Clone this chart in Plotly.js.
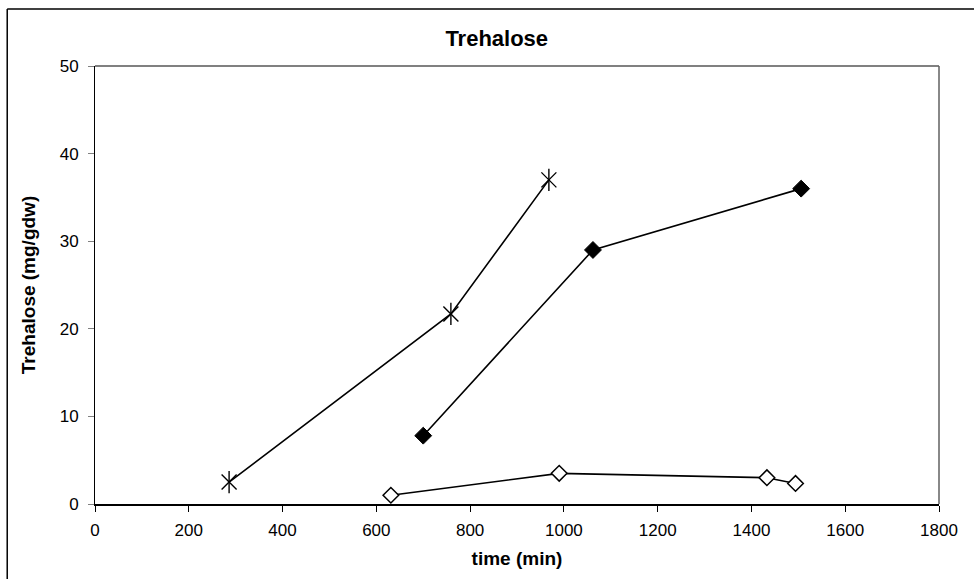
<!DOCTYPE html>
<html>
<head>
<meta charset="utf-8">
<script src="https://cdn.plot.ly/plotly-3.0.1.min.js"></script>
<style>html,body{margin:0;padding:0;background:#fff;}#chart{width:974px;height:579px;}</style>
</head>
<body>
<div id="chart"></div>
<script>
// Data
const starTime = [286, 759, 968];
const starTrehalose = [2.5, 21.7, 37.0];
const filledTime = [700, 1062, 1506];
const filledTrehalose = [7.8, 29.0, 36.0];
const openTime = [631, 990, 1433, 1494];
const openTrehalose = [1.0, 3.5, 3.0, 2.35];
const xTicks = [0, 200, 400, 600, 800, 1000, 1200, 1400, 1600, 1800];
const yTicks = [0, 10, 20, 30, 40, 50];

const lineStyle = {color: '#000', width: 1.6};

const traces = [
  {x: starTime, y: starTrehalose, type: 'scatter', mode: 'lines+markers',
   line: lineStyle, marker: {symbol: 'x-thin-open', size: 15, color: '#000', line: {color: '#000', width: 1.4}},
   showlegend: false, cliponaxis: false},
  {x: starTime, y: starTrehalose, type: 'scatter', mode: 'markers',
   marker: {symbol: 'line-ns-open', size: 16, color: '#000', line: {color: '#000', width: 1.4}},
   showlegend: false, cliponaxis: false},
  {x: filledTime, y: filledTrehalose, type: 'scatter', mode: 'lines+markers',
   line: lineStyle, marker: {symbol: 'diamond', size: 13, color: '#000', line: {color: '#000', width: 1}},
   showlegend: false, cliponaxis: false},
  {x: openTime, y: openTrehalose, type: 'scatter', mode: 'lines+markers',
   line: lineStyle, marker: {symbol: 'diamond', size: 12, color: '#fff', line: {color: '#000', width: 1.5}},
   showlegend: false, cliponaxis: false}
];

const font = 'Arial, "Liberation Sans", sans-serif';

const layout = {
  width: 974, height: 579, autosize: false,
  margin: {l: 95, r: 35, t: 66, b: 75, pad: 0},
  paper_bgcolor: '#fff', plot_bgcolor: '#fff',
  font: {family: font, color: '#000', size: 17},
  title: {text: 'Trehalose', font: {family: font, size: 22, weight: 'bold', color: '#000'},
          x: 0.51, xref: 'container', xanchor: 'center', y: 0.934, yref: 'container', yanchor: 'middle'},
  xaxis: {
    range: [0, 1800], tickvals: xTicks, ticktext: xTicks.map(String),
    showgrid: false, zeroline: false, showline: true, linecolor: '#000', linewidth: 2,
    ticks: 'outside', ticklen: 6, tickwidth: 1, tickcolor: '#000',
    tickfont: {family: font, size: 17, color: '#000'}, ticklabelstandoff: 4,
    title: {text: 'time (min)', font: {family: font, size: 19, weight: 'bold', color: '#000'}, standoff: 12},
    fixedrange: true
  },
  yaxis: {
    range: [0, 50], tickvals: yTicks, ticktext: yTicks.map(String),
    showgrid: false, zeroline: false, showline: true, linecolor: '#000', linewidth: 1,
    ticks: 'outside', ticklen: 6, tickwidth: 1, tickcolor: '#808080',
    tickfont: {family: font, size: 17, color: '#000'}, ticklabelstandoff: 6,
    title: {text: 'Trehalose (mg/gdw)', font: {family: font, size: 19, weight: 'bold', color: '#000'}, standoff: 19},
    fixedrange: true
  },
  shapes: [
    {type: 'line', xref: 'paper', yref: 'paper', x0: 0, x1: 1, y0: 1, y1: 1, line: {color: '#808080', width: 2}},
    {type: 'line', xref: 'paper', yref: 'paper', x0: 1, x1: 1, y0: 0, y1: 1, line: {color: '#606060', width: 1.5}},
    {type: 'line', xref: 'paper', yref: 'paper', x0: -0.104, x1: 1.1, y0: 1.13, y1: 1.13, line: {color: '#000', width: 1.5}},
    {type: 'line', xref: 'paper', yref: 'paper', x0: -0.104, x1: -0.104, y0: -0.3, y1: 1.13, line: {color: '#000', width: 1.5}}
  ]
};

Plotly.newPlot('chart', traces, layout, {displayModeBar: false, staticPlot: true});
</script>
</body>
</html>
